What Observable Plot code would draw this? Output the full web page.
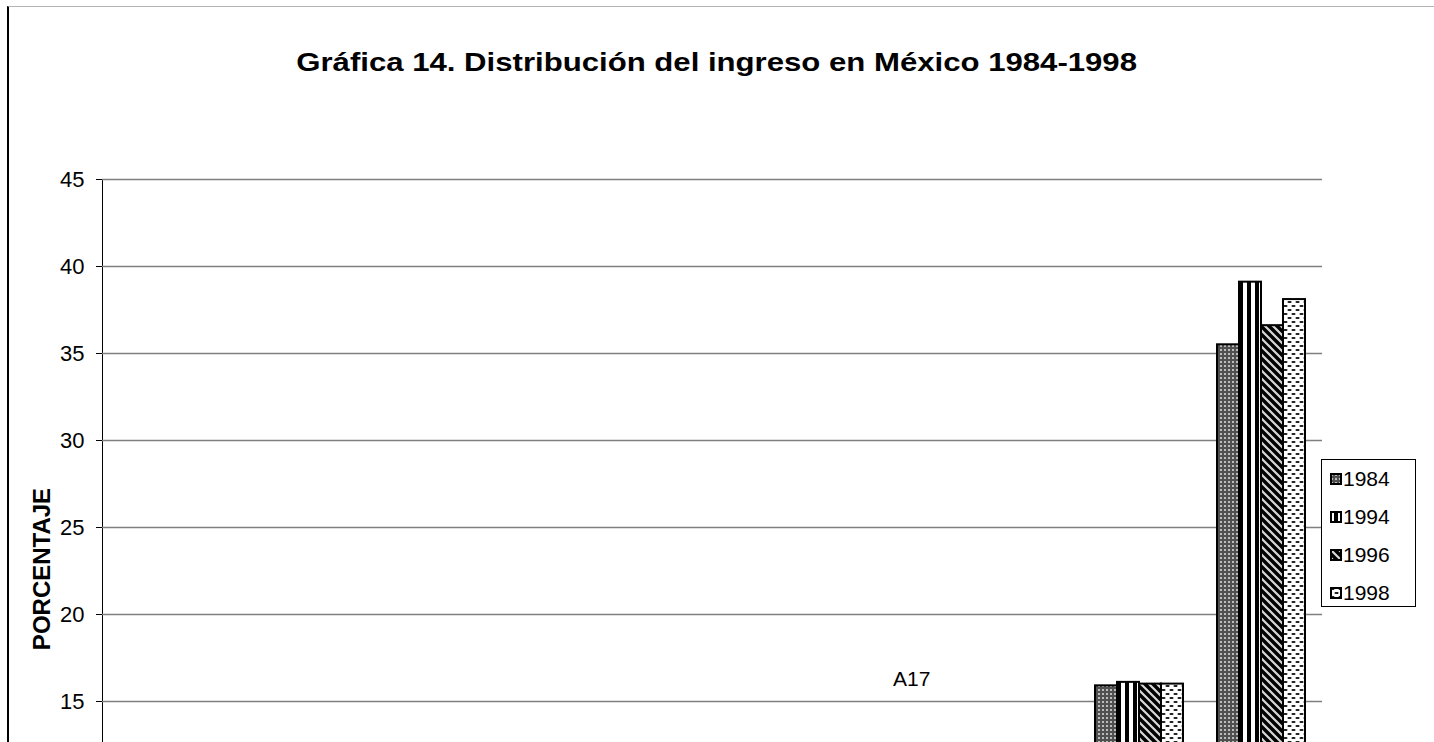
<!DOCTYPE html>
<html>
<head>
<meta charset="utf-8">
<script src="https://cdn.jsdelivr.net/npm/d3@7"></script>
<script src="https://cdn.jsdelivr.net/npm/@observablehq/plot@0.6"></script>
<style>
  html, body { margin: 0; padding: 0; background: #fff; }
  #chart { position: relative; width: 1434px; height: 742px; overflow: hidden; font-family: "Liberation Sans", Arial, sans-serif; color: #000; }
  #chart svg.layer { position: absolute; left: 0; top: 0; }
  #frame { position: absolute; left: 7px; top: 6px; width: 1500px; height: 1200px; border-left: 2px solid #000; border-top: 1px solid #b4b4b4; }
  #title { position: absolute; left: 0; width: 1434px; top: 48px; text-align: center; }
  #title span { display: inline-block; font-weight: bold; font-size: 25px; transform: scaleX(1.245); transform-origin: center; white-space: nowrap; }
  #ylabel { position: absolute; left: 42px; top: 569px; transform: translate(-50%, -50%) rotate(-90deg); font-weight: bold; font-size: 24px; white-space: nowrap; }
  #note { position: absolute; left: 893px; top: 667px; font-size: 21px; }
  #legend { position: absolute; left: 1321px; top: 459px; width: 95px; height: 148px; border: 1px solid #000; background: #fff; box-sizing: border-box; }
  .lg-row { height: 38px; display: flex; align-items: center; padding-left: 8px; font-size: 21px; }
  .lg-row svg { margin-right: 1px; }
</style>
</head>
<body>
<svg width="0" height="0" style="position:absolute">
  <defs>
    <pattern id="pat1984" patternUnits="userSpaceOnUse" width="4" height="4">
      <rect width="4" height="4" fill="#505050"/>
      <rect x="1" y="1" width="2" height="2" fill="#bcbcbc"/>
    </pattern>
    <pattern id="pat1994" patternUnits="userSpaceOnUse" width="8" height="8">
      <rect width="8" height="8" fill="#fff"/>
      <rect x="4" y="0" width="4" height="8" fill="#000"/>
    </pattern>
    <pattern id="pat1996" patternUnits="userSpaceOnUse" width="8" height="8">
      <rect width="8" height="8" fill="#000"/>
      <path d="M-2,-2 L10,10 M-2,6 L2,10 M6,-2 L10,2" stroke="#d8d8d8" stroke-width="2.2"/>
    </pattern>
    <pattern id="pat1998" patternUnits="userSpaceOnUse" width="8" height="8">
      <rect width="8" height="8" fill="#fff"/>
      <rect x="0.5" y="1" width="4" height="2" rx="1" fill="#222"/>
      <rect x="4.5" y="5" width="4" height="2" rx="1" fill="#222"/>
      <rect x="-3.5" y="5" width="4" height="2" rx="1" fill="#222"/>
    </pattern>
  </defs>
</svg>
<div id="chart">
  <div id="frame"></div>
  <div id="title"><span>Gráfica 14. Distribución del ingreso en México 1984-1998</span></div>
  <div id="ylabel">PORCENTAJE</div>
  <div id="note">A17</div>
</div>
<script>
// Data (percent of income by decile); deciles I–VIII fall below the visible area and are estimates
const deciles = ["I", "II", "III", "IV", "V", "VI", "VII", "VIII", "IX", "X"];
const years = ["1984", "1994", "1996", "1998"];
const v1984 = [1.7, 3.1, 4.2, 5.3, 6.4, 7.8, 9.6, 12.1, 15.9, 35.5];
const v1994 = [1.6, 2.8, 3.8, 4.8, 5.9, 7.2, 8.8, 11.3, 16.1, 39.1];
const v1996 = [1.8, 3.0, 4.0, 5.0, 6.1, 7.4, 9.0, 11.6, 16.0, 36.6];
const v1998 = [1.5, 2.9, 3.9, 4.9, 6.0, 7.3, 8.9, 11.4, 16.0, 38.1];
const yTicks = [0, 5, 10, 15, 20, 25, 30, 35, 40, 45];

const seriesByYear = {"1984": v1984, "1994": v1994, "1996": v1996, "1998": v1998};
const rows = [];
deciles.forEach((d, i) => years.forEach(y => rows.push({decile: d, year: y, value: seriesByYear[y][i]})));

const W = 1434, H = 1030;
const margins = {marginLeft: 102, marginRight: 112, marginTop: 179, marginBottom: 68};
const font = {fontSize: "22px", fontFamily: "Liberation Sans, Arial, sans-serif", background: "transparent", overflow: "visible"};

const axisPlot = Plot.plot({
  width: W, height: H, ...margins,
  style: font,
  y: {domain: [0, 45], ticks: yTicks, tickSize: 6, tickPadding: 12, label: null, line: true},
  marks: [
    Plot.ruleY(yTicks, {stroke: "#7f7f7f", strokeWidth: 1.5})
  ]
});
axisPlot.classList.add("layer");

const barPlot = Plot.plot({
  width: W, height: H, ...margins,
  style: font,
  facet: {data: rows, x: "decile"},
  fx: {domain: deciles, paddingInner: 0.28, paddingOuter: 0.14, label: null},
  x: {domain: years, padding: 0, axis: null},
  y: {domain: [0, 45], axis: null},
  color: {domain: years, range: years.map(y => `url(#pat${y})`)},
  marks: [
    Plot.barY(rows, {x: "year", y: "value", fill: "year", stroke: "#000", strokeWidth: 2})
  ]
});
barPlot.classList.add("layer");

const chart = document.getElementById("chart");
const title = document.getElementById("title");
chart.insertBefore(axisPlot, title);
chart.insertBefore(barPlot, title);

// Legend
const legend = document.createElement("div");
legend.id = "legend";
years.forEach(y => {
  const row = document.createElement("div");
  row.className = "lg-row";
  row.innerHTML = `<svg width="12" height="12"><rect x="1" y="1" width="10" height="10" fill="url(#pat${y})" stroke="#000" stroke-width="2"/></svg><span>${y}</span>`;
  legend.appendChild(row);
});
chart.appendChild(legend);
</script>
</body>
</html>
